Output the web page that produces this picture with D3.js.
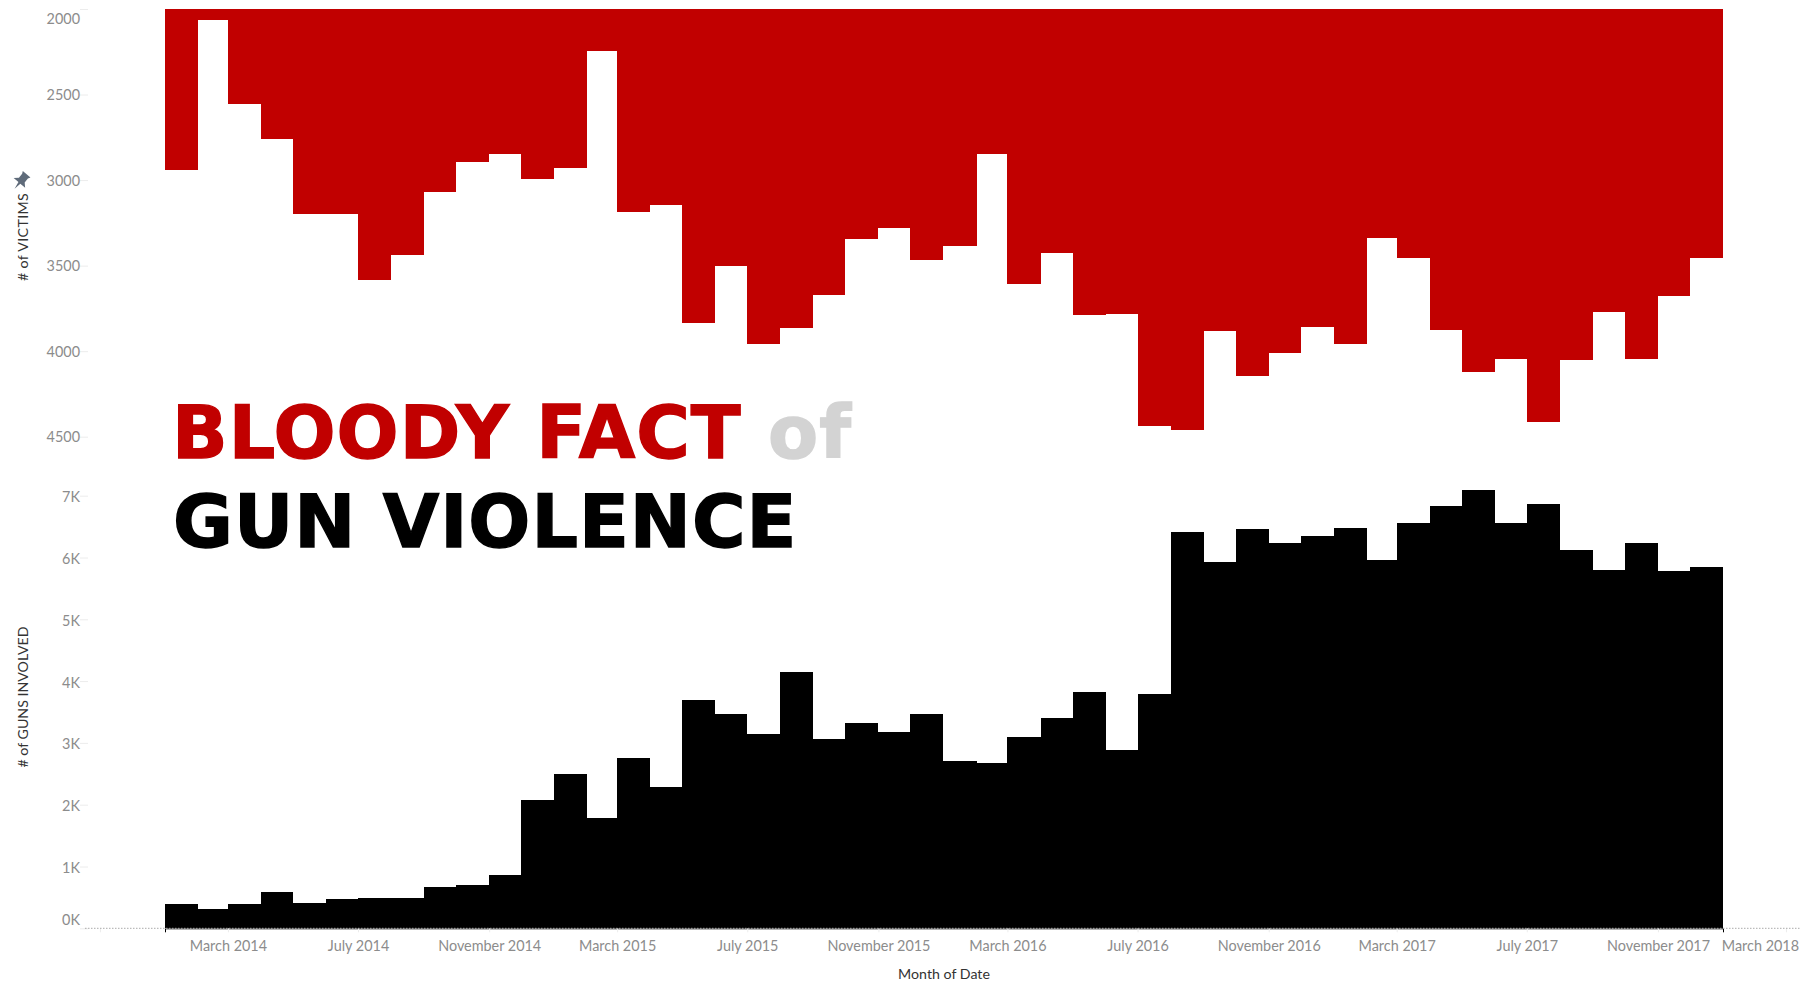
<!DOCTYPE html>
<html>
<head>
<meta charset="utf-8">
<title>Bloody fact of gun violence</title>
<script src="https://cdn.jsdelivr.net/npm/d3@7"></script>
<style>
    html, body { margin: 0; padding: 0; background: #fff; overflow: hidden; }
    svg { display: block; }
    .tick text { font-family: Lato, sans-serif; font-size: 14.4px; fill: #8c8c8c; }
    .axis-title { font-family: Lato, sans-serif; font-size: 14.2px; fill: #333; }
    .title { font-family: "DejaVu Sans", sans-serif; font-weight: bold; font-size: 73px; letter-spacing: 1px; stroke-width: 1.4px; }
</style>
</head>
<body>
<svg></svg>
<script>
'use strict';

// one entry per month, january 2014 to december 2017
var months = [
    '2014-01', '2014-02', '2014-03', '2014-04', '2014-05', '2014-06', '2014-07', '2014-08', '2014-09', '2014-10', '2014-11', '2014-12',
    '2015-01', '2015-02', '2015-03', '2015-04', '2015-05', '2015-06', '2015-07', '2015-08', '2015-09', '2015-10', '2015-11', '2015-12',
    '2016-01', '2016-02', '2016-03', '2016-04', '2016-05', '2016-06', '2016-07', '2016-08', '2016-09', '2016-10', '2016-11', '2016-12',
    '2017-01', '2017-02', '2017-03', '2017-04', '2017-05', '2017-06', '2017-07', '2017-08', '2017-09', '2017-10', '2017-11', '2017-12'
];

var victims = [
    2944, 2066, 2558, 2757, 3197, 3197, 3585, 3437, 3071, 2892, 2845, 2993,
    2932, 2245, 3184, 3145, 3838, 3505, 3957, 3866, 3671, 3346, 3280, 3470,
    3385, 2845, 3610, 3425, 3791, 3780, 4438, 4459, 3885, 4144, 4012, 3858,
    3957, 3338, 3453, 3877, 4119, 4045, 4413, 4053, 3772, 4045, 3679, 3457
];

var guns = [
    399, 307, 399, 583, 415, 475, 491, 491, 663, 696, 863, 2082,
    2492, 1785, 2751, 2287, 3689, 3468, 3150, 4153, 3058, 3317, 3172, 3468,
    2713, 2675, 3096, 3398, 3819, 2880, 3786, 6419, 5928, 6456, 6241, 6348,
    6478, 5960, 6553, 6828, 7087, 6553, 6866, 6127, 5798, 6241, 5777, 5852
];

var victimTicks = [2000, 2500, 3000, 3500, 4000, 4500];
var gunTicks = [0, 1000, 2000, 3000, 4000, 5000, 6000, 7000];
var monthTicks = [
    '2013-11', '2014-03', '2014-07', '2014-11', '2015-03', '2015-07', '2015-11', '2016-03',
    '2016-07', '2016-11', '2017-03', '2017-07', '2017-11', '2018-03'
];

var width = 1800;
var height = 981;
var parseMonth = d3.utcParse('%Y-%m');

var svg = d3.select('svg').attr('width', width).attr('height', height);

// month bars are as wide as the month is long
var x = d3.scaleUtc()
    .domain([parseMonth('2014-01'), parseMonth('2018-01')])
    .range([165, 1723]);

var yVictims = d3.scaleLinear().domain([2000, 4500]).range([9, 436.7]);
var yGuns = d3.scaleLinear().domain([0, 7000]).range([928.3, 495.7]);

function monthEnd(m) {
    return d3.utcMonth.offset(parseMonth(m), 1);
}

// red bars hang down from the top of the axis
svg.append('g').selectAll('rect')
    .data(months)
    .enter().append('rect')
    .attr('x', function(d) { return x(parseMonth(d)); })
    .attr('y', yVictims(2000))
    .attr('width', function(d) { return x(monthEnd(d)) - x(parseMonth(d)); })
    .attr('height', function(d, i) { return yVictims(victims[i]) - yVictims(2000); })
    .attr('fill', '#c10000')
    .attr('shape-rendering', 'crispEdges');

svg.append('g').selectAll('rect')
    .data(months)
    .enter().append('rect')
    .attr('x', function(d) { return x(parseMonth(d)); })
    .attr('y', function(d, i) { return yGuns(guns[i]); })
    .attr('width', function(d) { return x(monthEnd(d)) - x(parseMonth(d)); })
    .attr('height', function(d, i) { return yGuns(0) - yGuns(guns[i]); })
    .attr('fill', '#000')
    .attr('shape-rendering', 'crispEdges');

// y axes
var victimAxis = svg.append('g')
    .attr('transform', 'translate(88,0)')
    .call(d3.axisLeft(yVictims).tickValues(victimTicks).tickSize(8).tickPadding(0)
        .tickFormat(d3.format('d')));

var gunAxis = svg.append('g')
    .attr('transform', 'translate(88,0)')
    .call(d3.axisLeft(yGuns).tickValues(gunTicks).tickSize(8).tickPadding(0)
        .tickFormat(function(d) { return (d / 1000) + 'K'; }));

svg.selectAll('.domain').remove();
svg.selectAll('.tick line').attr('stroke', '#ececec');

// first labels get pushed inside the pane
victimAxis.selectAll('.tick text')
    .attr('dy', function(d) { return d === 2000 ? '1em' : '0.36em'; });
gunAxis.selectAll('.tick text')
    .attr('dy', function(d) { return d === 0 ? '-0.25em' : '0.42em'; });

// x axis
var xAxis = svg.append('g')
    .attr('transform', 'translate(0,' + yGuns(0) + ')')
    .call(d3.axisBottom(x)
        .tickValues(monthTicks.map(parseMonth))
        .tickSize(4)
        .tickPadding(8)
        .tickFormat(d3.utcFormat('%B %Y')));

xAxis.selectAll('.tick line').attr('stroke', '#ececec');
xAxis.selectAll('.tick text')
    .text(function(d, i) { return i === 0 ? '' : d3.utcFormat('%B %Y')(d); })
    .attr('dx', function(d, i) { return i === monthTicks.length - 1 ? -26 : 0; });

svg.append('line')
    .attr('x1', 85).attr('x2', width)
    .attr('y1', yGuns(0)).attr('y2', yGuns(0))
    .attr('stroke', '#aaa')
    .attr('stroke-dasharray', '1.5 1.5');

// axis titles
svg.append('text')
    .attr('class', 'axis-title')
    .attr('text-anchor', 'middle')
    .attr('letter-spacing', '0.35')
    .attr('transform', 'translate(28,237) rotate(-90)')
    .text('# of VICTIMS');

svg.append('text')
    .attr('class', 'axis-title')
    .attr('text-anchor', 'middle')
    .attr('transform', 'translate(28,697) rotate(-90)')
    .text('# of GUNS INVOLVED');

svg.append('text')
    .attr('class', 'axis-title')
    .attr('text-anchor', 'middle')
    .attr('x', 944)
    .attr('y', 979)
    .text('Month of Date');

// pin next to the victims axis
svg.append('path')
    .attr('transform', 'translate(21,181) rotate(40) scale(1.25)')
    .attr('d', 'M-4,-7 L4,-7 L3,-5 L3,-1 L6,2 L1,2 L0,8 L-1,2 L-6,2 L-3,-1 L-3,-5 Z')
    .attr('fill', '#5f6b7a');

// title sits on top of the chart
var line1 = svg.append('text')
    .attr('class', 'title')
    .attr('x', 172)
    .attr('y', 458);
line1.append('tspan').attr('fill', '#c10000').attr('stroke', '#c10000').text('BLOODY FACT');
line1.append('tspan').attr('fill', '#d3d3d3').attr('stroke', '#d3d3d3').text(' of');

svg.append('text')
    .attr('class', 'title')
    .attr('x', 173)
    .attr('y', 547)
    .attr('fill', '#000')
    .attr('stroke', '#000')
    .text('GUN VIOLENCE');
</script>
</body>
</html>
